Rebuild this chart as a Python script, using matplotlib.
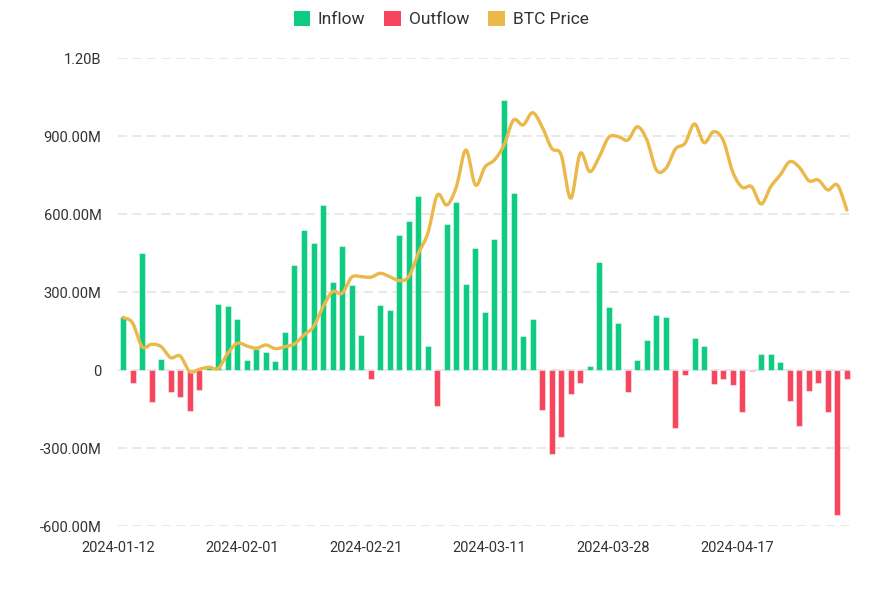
import numpy as np
import matplotlib
matplotlib.use('Agg')
import matplotlib.pyplot as plt
import matplotlib.transforms as mtransforms
from matplotlib.patches import Patch

plt.rcParams['font.family'] = ['Roboto', 'DejaVu Sans']

# trading days (category axis)
dates = ['2024-01-12', '2024-01-16', '2024-01-17', '2024-01-18', '2024-01-19',
         '2024-01-22', '2024-01-23', '2024-01-24', '2024-01-25', '2024-01-26',
         '2024-01-29', '2024-01-30', '2024-01-31', '2024-02-01', '2024-02-02',
         '2024-02-05', '2024-02-06', '2024-02-07', '2024-02-08', '2024-02-09',
         '2024-02-12', '2024-02-13', '2024-02-14', '2024-02-15', '2024-02-16',
         '2024-02-20', '2024-02-21', '2024-02-22', '2024-02-23', '2024-02-26',
         '2024-02-27', '2024-02-28', '2024-02-29', '2024-03-01', '2024-03-04',
         '2024-03-05', '2024-03-06', '2024-03-07', '2024-03-08', '2024-03-11',
         '2024-03-12', '2024-03-13', '2024-03-14', '2024-03-15', '2024-03-18',
         '2024-03-19', '2024-03-20', '2024-03-21', '2024-03-22', '2024-03-25',
         '2024-03-26', '2024-03-27', '2024-03-28', '2024-04-01', '2024-04-02',
         '2024-04-03', '2024-04-04', '2024-04-05', '2024-04-08', '2024-04-09',
         '2024-04-10', '2024-04-11', '2024-04-12', '2024-04-15', '2024-04-16',
         '2024-04-17', '2024-04-18', '2024-04-19', '2024-04-22', '2024-04-23',
         '2024-04-24', '2024-04-25', '2024-04-26', '2024-04-29', '2024-04-30',
         '2024-05-01', '2024-05-02']

# net flow, USD millions
net_flow = [203, -51, 451, -124, 43, -86, -104, -156, -78, 15,
            254, 246, 196, 38, 80, 68, 35, 145, 403, 538,
            490, 633, 338, 476, 328, 135, -35, 250, 231, 518,
            573, 669, 92, -137, 560, 645, 331, 469, 222, 503,
            1038, 680, 132, 197, -153, -323, -259, -92, -50, 15,
            415, 242, 182, -85, 40, 114, 212, 203, -222, -18,
            123, 91, -54, -35, -56, -163, -4, 60, 62, 31,
            -119, -217, -82, -50, -160, -559, -33]

# BTC price, USD
btc_price = [46000, 45250, 42130, 42440, 42130, 40680, 40900, 38840, 39150, 39420,
             39280, 41260, 42580, 42220, 41920, 42350, 41860, 42130, 42480, 43670,
             44760, 47400, 49370, 49160, 51270, 51350, 51270, 51800, 51350, 50820,
             51350, 54430, 57060, 62110, 60790, 63200, 68030, 63420, 65790, 66720,
             68690, 71980, 71330, 72950, 71100, 68260, 67380, 61670, 67600, 65180,
             67150, 69710, 69790, 69350, 71100, 69350, 65400, 65620, 68170, 68920,
             71460, 69000, 70440, 69350, 65180, 63120, 63200, 60920, 63200, 64740,
             66490, 65760, 63990, 64080, 62770, 63420, 60130]

tick_labels = ['2024-01-12', '2024-02-01', '2024-02-21', '2024-03-11', '2024-03-28', '2024-04-17']

green = '#0ECB81'
red = '#F6465D'
gold = '#EBB84A'

flow = np.array(net_flow) * 1e6
x = np.arange(len(dates))
colors = [green if v >= 0 else red for v in flow]


def smooth(xs, ys, n=12):
    # catmull-rom through the points, just for drawing the curve
    xs = np.asarray(xs, float)
    ys = np.asarray(ys, float)
    px = np.concatenate([[2 * xs[0] - xs[1]], xs, [2 * xs[-1] - xs[-2]]])
    py = np.concatenate([[2 * ys[0] - ys[1]], ys, [2 * ys[-1] - ys[-2]]])
    ox, oy = [], []
    t = np.linspace(0, 1, n, endpoint=False)
    for i in range(1, len(px) - 2):
        for arr, out in ((px, ox), (py, oy)):
            p0, p1, p2, p3 = arr[i - 1], arr[i], arr[i + 1], arr[i + 2]
            out.extend(0.5 * ((2 * p1) + (-p0 + p2) * t +
                              (2 * p0 - 5 * p1 + 4 * p2 - p3) * t ** 2 +
                              (-p0 + 3 * p1 - 3 * p2 + p3) * t ** 3))
    ox.append(xs[-1])
    oy.append(ys[-1])
    return np.array(ox), np.array(oy)


fig = plt.figure(figsize=(8.82, 6), dpi=100)
ax = fig.add_axes([0.1341, 0.1233, 0.8315, 0.78])

ax.bar(x, flow, width=0.63, color=colors, edgecolor=(1, 1, 1, 0.45), linewidth=0.8, zorder=2)

ax.set_xlim(-0.5, len(dates) - 0.5)
ax.set_ylim(-600e6, 1200e6)
ax.set_yticks([-600e6, -300e6, 0, 300e6, 600e6, 900e6, 1200e6])
ax.set_yticklabels(['-600.00M', '-300.00M', '0', '300.00M', '600.00M', '900.00M', '1.20B'])
ax.yaxis.grid(True, color='#E6E6E6', linestyle=(0, (5, 3)), linewidth=1.3, zorder=0)
ax.set_axisbelow(True)

# labels sit at the start of each band, nudged a little left
pos = [dates.index(d) - 0.5 for d in tick_labels]
ax.set_xticks(pos)
ax.set_xticklabels(tick_labels)
shift = mtransforms.ScaledTranslation(-4 / 100, 0, fig.dpi_scale_trans)
for lab in ax.get_xticklabels():
    lab.set_transform(lab.get_transform() + shift)
ax.tick_params(axis='both', length=0, labelsize=10.5, colors='#333333')
ax.tick_params(axis='y', pad=12)
ax.tick_params(axis='x', pad=11)
for s in ax.spines.values():
    s.set_visible(False)

ax2 = ax.twinx()
sx, sy = smooth(x, btc_price)
ax2.plot(sx, sy, color=gold, linewidth=2.4, solid_capstyle='round', zorder=3)
ax2.set_ylim(18500, 80150)
ax2.set_xlim(-0.5, len(dates) - 0.5)
ax2.axis('off')

handles = [Patch(facecolor=green), Patch(facecolor=red), Patch(facecolor=gold)]
fig.legend(handles, ['Inflow', 'Outflow', 'BTC Price'], loc='upper center',
           bbox_to_anchor=(0.5, 1.008), ncol=3, frameon=False, fontsize=12.5,
           handlelength=0.95, handleheight=0.95, handletextpad=0.45, columnspacing=1.1,
           labelcolor='#333333')

fig.savefig('out.png', dpi=100)
